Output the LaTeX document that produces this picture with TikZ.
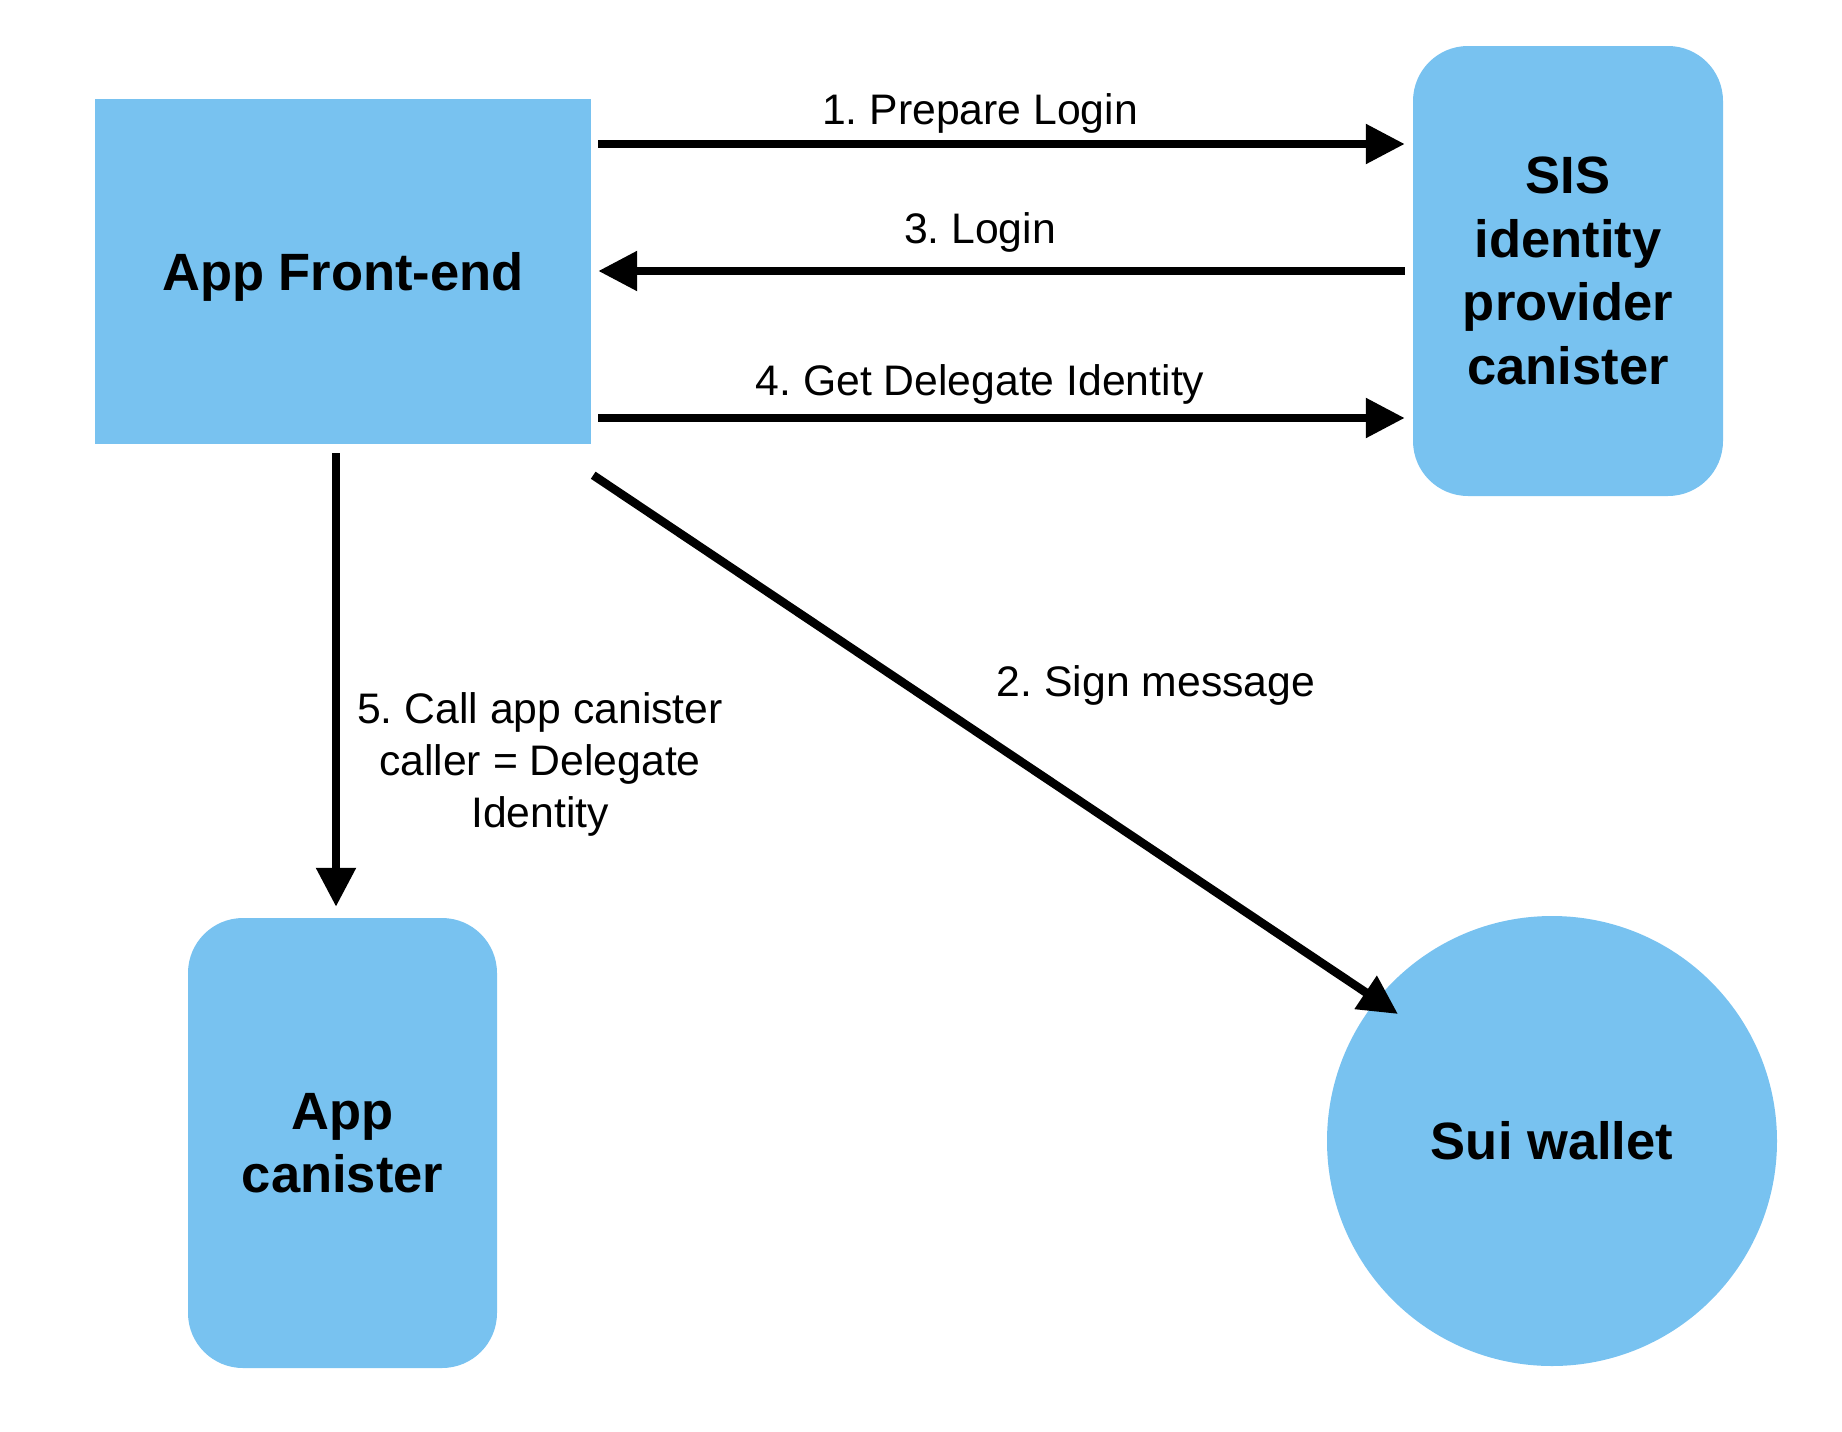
\documentclass[tikz,border=0pt]{standalone}
\usepackage{fontspec}
\setmainfont{Liberation Sans}
\usetikzlibrary{arrows.meta,calc}
\definecolor{nodeblue}{RGB}{120,194,240}
\frenchspacing
\begin{document}
\begin{tikzpicture}[x=1pt,y=-1pt,
  conn/.style={line width=8.5pt,-{Triangle[length=39pt,width=38pt]}},
  lbl/.style={font=\fontsize{42.7}{52}\selectfont, inner sep=0pt},
  boxtext/.style={font=\bfseries\fontsize{52.5}{63.5}\selectfont, align=center, inner sep=0pt},
  sq/.style={boxtext, fill=nodeblue, rectangle},
  rbox/.style={boxtext, fill=nodeblue, rounded corners=55pt, rectangle},
  ]
\useasboundingbox (0,0) rectangle (1842,1432);
\node[sq, minimum width=496pt, minimum height=345pt, text depth=0pt] (fe) at (343,271.5) {App Front-end};
\node[rbox, minimum width=310pt, minimum height=450pt] (sis) at (1568,271) {SIS\\identity\\provider\\canister};
\node[rbox, minimum width=309pt, minimum height=450pt] (appc) at (342.5,1143) {App\\canister};
\node[boxtext, circle, fill=nodeblue, minimum size=450pt] (sui) at (1552,1141) {Sui wallet};

\draw[conn, shorten <=7pt, shorten >=8pt] (fe.east |- 0,144) -- (sis.west |- 0,144);
\draw[conn, shorten <=8pt, shorten >=7pt] (sis.west |- 0,271) -- (fe.east |- 0,271);
\draw[conn, shorten <=7pt, shorten >=8pt] (fe.east |- 0,418) -- (sis.west |- 0,418);
\draw[conn, shorten <=9pt, shorten >=11pt] (fe.south -| 336,0) -- (appc.north -| 336,0);
\draw[conn] ([shift={(2,31)}]fe.south east) -- ([shift={(-154,-127)}]sui.center);

\node[lbl, anchor=base] (l1) at (980,124) {1. Prepare Login};
\node[lbl, anchor=base] (l3) at (980,243) {3. Login};
\node[lbl, anchor=base] (l4) at (980,395) {4. Get Delegate Identity};
\node[lbl, anchor=base] (l2) at (1156,696) {2. Sign message};
\node[lbl, anchor=north, align=center] (l5) at (540,692) {5. Call app canister\\caller = Delegate\\Identity};
\end{tikzpicture}
\end{document}
